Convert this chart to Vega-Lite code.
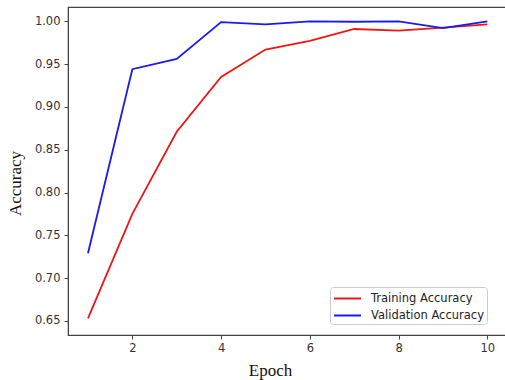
{
  "$schema": "https://vega.github.io/schema/vega-lite/v6.json",
  "width": 438,
  "height": 328,
  "autosize": "none",
  "padding": {"left": 68, "top": 7, "right": 0, "bottom": 45},
  "background": "white",
  "config": {
    "view": {"stroke": "#444", "strokeWidth": 1.2},
    "axis": {
      "labelFont": "DejaVu Sans",
      "labelFontSize": 11.5,
      "labelColor": "#333",
      "tickColor": "#444",
      "tickSize": 4,
      "domainColor": "#444",
      "grid": false,
      "titleFont": "Liberation Serif",
      "titleFontWeight": "normal",
      "titleFontSize": 17,
      "titleColor": "#111"
    }
  },
  "data": {
    "values": [
      {"epoch": 1, "series": "Training Accuracy", "accuracy": 0.653},
      {"epoch": 2, "series": "Training Accuracy", "accuracy": 0.775},
      {"epoch": 3, "series": "Training Accuracy", "accuracy": 0.871},
      {"epoch": 4, "series": "Training Accuracy", "accuracy": 0.935},
      {"epoch": 5, "series": "Training Accuracy", "accuracy": 0.967},
      {"epoch": 6, "series": "Training Accuracy", "accuracy": 0.977},
      {"epoch": 7, "series": "Training Accuracy", "accuracy": 0.991},
      {"epoch": 8, "series": "Training Accuracy", "accuracy": 0.989},
      {"epoch": 9, "series": "Training Accuracy", "accuracy": 0.9925},
      {"epoch": 10, "series": "Training Accuracy", "accuracy": 0.9965},
      {"epoch": 1, "series": "Validation Accuracy", "accuracy": 0.729},
      {"epoch": 2, "series": "Validation Accuracy", "accuracy": 0.944},
      {"epoch": 3, "series": "Validation Accuracy", "accuracy": 0.956},
      {"epoch": 4, "series": "Validation Accuracy", "accuracy": 0.999},
      {"epoch": 5, "series": "Validation Accuracy", "accuracy": 0.9965},
      {"epoch": 6, "series": "Validation Accuracy", "accuracy": 1.0},
      {"epoch": 7, "series": "Validation Accuracy", "accuracy": 0.9995},
      {"epoch": 8, "series": "Validation Accuracy", "accuracy": 1.0},
      {"epoch": 9, "series": "Validation Accuracy", "accuracy": 0.992},
      {"epoch": 10, "series": "Validation Accuracy", "accuracy": 1.0}
    ]
  },
  "mark": {"type": "line", "strokeWidth": 1.8},
  "encoding": {
    "x": {
      "field": "epoch",
      "type": "quantitative",
      "scale": {"domain": [0.55, 10.42], "nice": false, "zero": false},
      "axis": {"values": [2, 4, 6, 8, 10], "title": "Epoch", "titleX": 202, "titleY": 40, "titleBaseline": "alphabetic", "labelPadding": 3}
    },
    "y": {
      "field": "accuracy",
      "type": "quantitative",
      "scale": {"domain": [0.6336, 1.0167], "nice": false, "zero": false},
      "axis": {"values": [0.65, 0.7, 0.75, 0.8, 0.85, 0.9, 0.95, 1.0], "format": ".2f", "title": "Accuracy", "titleX": -48, "titleY": 176, "titleAlign": "center", "titleBaseline": "alphabetic", "labelPadding": 4}
    },
    "color": {
      "field": "series",
      "type": "nominal",
      "scale": {"domain": ["Training Accuracy", "Validation Accuracy"], "range": ["#f01515", "#1a1aee"]},
      "legend": {
        "title": null,
        "orient": "none",
        "legendX": 262,
        "legendY": 280,
        "symbolType": "M-1,0H2.6",
        "symbolSize": 225,
        "symbolStrokeWidth": 2,
        "labelFont": "DejaVu Sans",
        "labelFontSize": 11.5,
        "labelColor": "#222",
        "labelOffset": 21,
        "rowPadding": 3,
        "padding": 3,
        "strokeColor": "#ccc",
        "cornerRadius": 3,
        "fillColor": "white"
      }
    }
  }
}
